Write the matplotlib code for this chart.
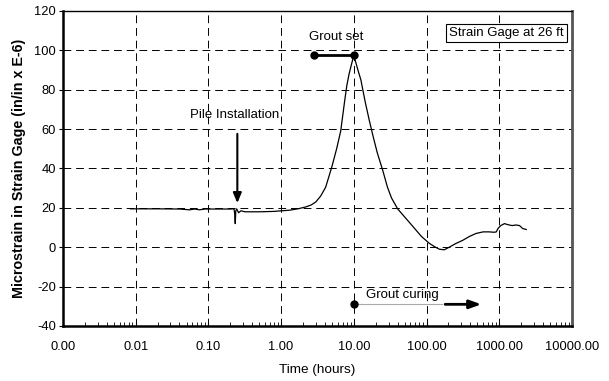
import numpy as np
import matplotlib.pyplot as plt
from matplotlib.ticker import FixedLocator, FixedFormatter, LogLocator, NullFormatter

plt.rcParams['font.family'] = ['Liberation Sans', 'DejaVu Sans']
plt.rcParams['axes.unicode_minus'] = False

# datos
horas = [0.0085, 0.02, 0.04, 0.055, 0.065, 0.075, 0.09, 0.15, 0.2, 0.225, 0.23, 0.234,
         0.238, 0.245, 0.26, 0.28, 0.32, 0.5, 0.8, 1.0, 1.3, 1.7, 2.2, 2.6, 3.0, 3.5,
         4.1, 5.0, 5.8, 6.6, 7.4, 8.0, 8.6, 9.3, 10.0, 10.8, 11.6, 12.5, 14.3, 16.3,
         18.5, 21, 25, 29, 33, 38, 40, 60, 85, 109, 130, 150, 175, 205, 250, 314, 390,
         480, 600, 730, 850, 910, 960, 1050, 1180, 1300, 1500, 1700, 1900, 2100, 2350]
micro = [19.5, 19.5, 19.4, 19.0, 19.4, 19.0, 19.4, 19.4, 19.4, 19.5, 17, 12,
         18.5, 19.5, 17.5, 18.5, 18.0, 18.0, 18.2, 18.5, 18.8, 19.5, 20.5, 21.5, 23, 26,
         30.5, 41, 50, 59, 73, 82, 88, 93, 97.5, 93, 89, 85, 74, 64.5,
         56, 48, 39, 30.5, 25, 21, 19.5, 12, 5.5, 2, 0.2, -1, -1.3, 0, 1.8, 3.5, 5.5,
         7, 7.8, 7.8, 7.6, 7.8, 9.5, 11, 12, 11.5, 11, 11.3, 11, 9.5, 9]

ticks_x = [0.001, 0.01, 0.1, 1, 10, 100, 1000, 10000]
etiquetas_x = ['0.00', '0.01', '0.10', '1.00', '10.00', '100.00', '1000.00', '10000.00']
ticks_y = [-40, -20, 0, 20, 40, 60, 80, 100, 120]

fig = plt.figure(figsize=(6.09, 3.81), dpi=100)
ax = fig.add_axes([0.1034, 0.1444, 0.8358, 0.8268])

ax.plot(horas, micro, color='black', lw=0.9)
ax.set_xscale('log')
ax.set_xlim(0.001, 10000)
ax.set_ylim(-40, 120)

ax.xaxis.set_major_locator(FixedLocator(ticks_x))
ax.xaxis.set_major_formatter(FixedFormatter(etiquetas_x))
ax.xaxis.set_minor_locator(LogLocator(base=10, subs=np.arange(2, 10)))
ax.xaxis.set_minor_formatter(NullFormatter())
ax.set_yticks(ticks_y)

ax.grid(True, which='major', color='black', ls=(0, (8, 5)), lw=0.7)
ax.tick_params(axis='x', which='both', direction='in', length=3, labelsize=9.3, pad=11)
ax.tick_params(axis='y', direction='out', length=3, labelsize=9.3, pad=2)

ax.spines['left'].set_linewidth(1.8)
ax.spines['bottom'].set_linewidth(1.8)
ax.spines['top'].set_linewidth(1.0)
ax.spines['right'].set_linewidth(2.0)
ax.spines['right'].set_color('#555555')

ax.set_xlabel('Time (hours)', fontsize=9.7, labelpad=8)
ax.set_ylabel('Microstrain in Strain Gage (in/in x E-6)', fontsize=10.3,
              fontweight='bold', labelpad=6)

# Pile installation
ax.annotate('', xy=(0.25, 21), xytext=(0.25, 59),
            arrowprops=dict(arrowstyle='-|>,head_width=0.25,head_length=0.6', color='black', lw=1.5))
ax.text(0.23, 67, 'Pile Installation', ha='center', va='center', fontsize=9.5)

# Grout set
ax.plot([2.85, 10], [97.5, 97.5], color='black', lw=2, marker='o', ms=5)
ax.text(5.7, 107, 'Grout set', ha='center', va='center', fontsize=9.5)

# Grout curing
ax.plot([10, 165], [-29, -29], color='#aaaaaa', lw=0.8)
ax.plot([10], [-29], color='black', marker='o', ms=5)
ax.annotate('', xy=(620, -29), xytext=(165, -29),
            arrowprops=dict(arrowstyle='-|>,head_width=0.25,head_length=0.7', color='black', lw=2))
ax.text(14.5, -24.3, 'Grout curing', ha='left', va='center', fontsize=9.5)

ax.text(0.871, 0.93, 'Strain Gage at 26 ft', transform=ax.transAxes, ha='center', va='center',
        fontsize=9.5, bbox=dict(boxstyle='square,pad=0.22', fc='white', ec='black', lw=0.8))

plt.savefig('out.png', dpi=100)
